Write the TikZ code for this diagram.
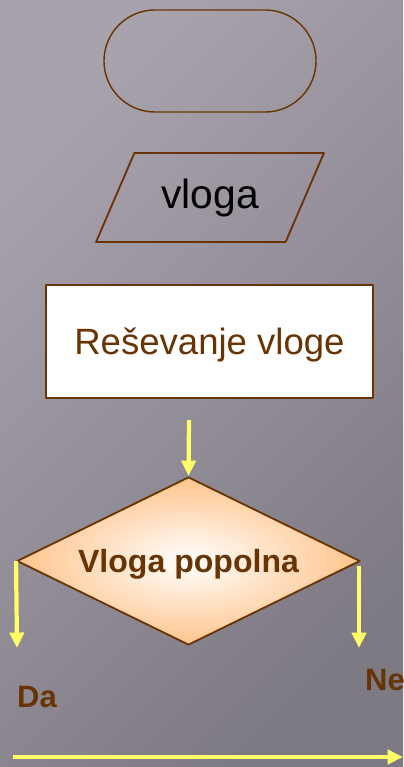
\documentclass[tikz,border=0pt]{standalone}
\usepackage{fontspec}
\setmainfont{Liberation Sans}
\usepackage{tikz}
\usetikzlibrary{arrows.meta}
\usetikzlibrary{shapes.geometric}
\usetikzlibrary{positioning}
\definecolor{FlowBrown}{RGB}{104,52,4}
\definecolor{ArrowYellow}{RGB}{255,255,102}
\definecolor{Peach}{RGB}{255,196,140}
\definecolor{BgLight}{RGB}{168,162,172}
\definecolor{BgDark}{RGB}{126,122,131}

\begin{document}
\begin{tikzpicture}[line join=round,x=0.025cm,y=-0.025cm,
  shape line/.style={draw=FlowBrown,line width=1.3pt,inner sep=0pt},
  flow arrow/.style={-{Triangle[width=10pt,length=11pt]},line width=3pt,color=ArrowYellow},
  answer/.style={text=FlowBrown,font=\fontsize{22}{22}\selectfont\bfseries}]
%  \draw[step=20,gray,very thin] (0,0) grid (403,767);

\useasboundingbox (0,0) rectangle (403,767);
\shade[left color=BgLight,right color=BgDark,shading angle=45] (0,0) rectangle (403,767);

\node[shape line,line width=1pt,rounded corners=1.275cm,minimum width=5.3cm,minimum height=2.55cm] (start) at (210,61) {};
\node[shape line,trapezium,trapezium left angle=57,trapezium right angle=123,trapezium stretches,minimum width=5.7cm,minimum height=2.225cm,font=\fontsize{29}{29}\selectfont] (input) at (210,197.5) {vloga};
\node[shape line,fill=white,minimum width=8.175cm,minimum height=2.825cm,text=FlowBrown,font=\fontsize{26}{26}\selectfont,text depth=0pt] (process) at (209.5,341.5) {Reševanje vloge};
\node[shape line,diamond,aspect=2,minimum width=8.575cm,minimum height=4.2cm,inner color=white,outer color=Peach,text=FlowBrown,font=\fontsize{22.8}{22.8}\selectfont\bfseries,text depth=0pt] (decision) at (188.5,561) {Vloga popolna};

\node[answer] (yes) at (37,697) {Da};
\node[answer] (no) at (385,680) {Ne};

\coordinate (in) at (189,420);
\coordinate (yes end) at (17,648);
\coordinate (no start) at (359,566);
\coordinate (no end) at (359,648);
\coordinate (base start) at (13,757);
\coordinate (base end) at (403,757);

\draw[flow arrow] (in) -- (decision.north);
\draw[flow arrow] (decision.west) -- (yes end);
\draw[flow arrow] (no start) -- (no end);
\draw[flow arrow] (base start) -- (base end);

\end{tikzpicture}
\end{document}
